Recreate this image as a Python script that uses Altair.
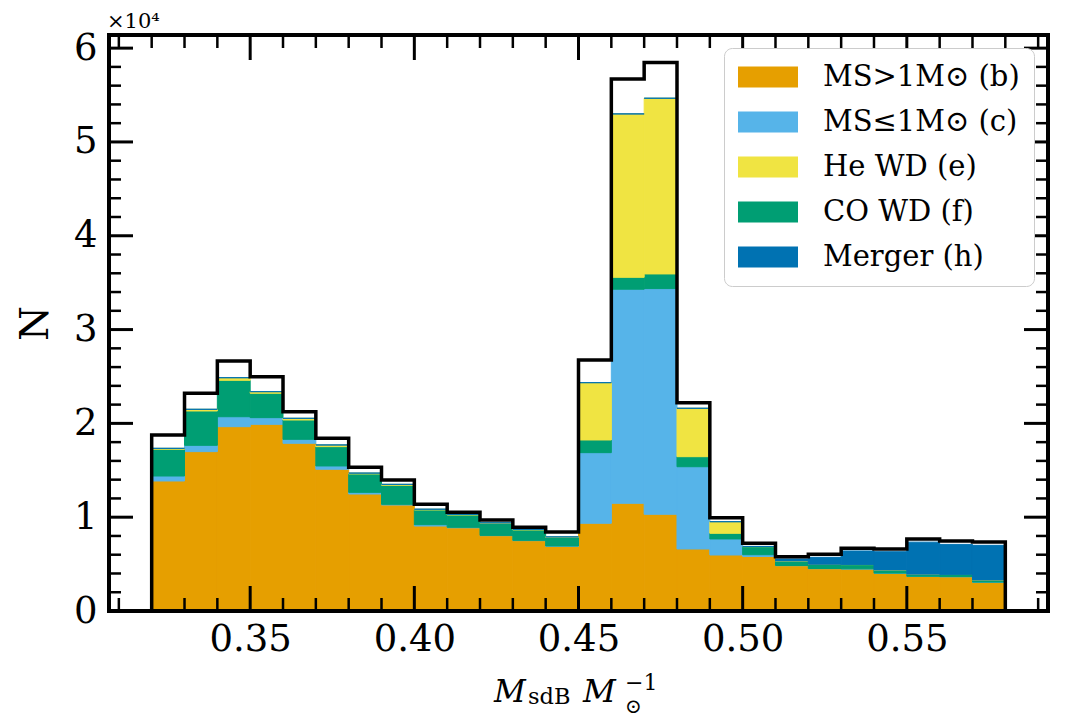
import altair as alt
import pandas as pd

# ---------------- data ----------------
bin_lo = [0.32, 0.33, 0.34, 0.35, 0.36, 0.37, 0.38, 0.39, 0.40, 0.41, 0.42, 0.43, 0.44,
          0.45, 0.46, 0.47, 0.48, 0.49, 0.50, 0.51, 0.52, 0.53, 0.54, 0.55, 0.56, 0.57]
bin_hi = [0.33, 0.34, 0.35, 0.36, 0.37, 0.38, 0.39, 0.40, 0.41, 0.42, 0.43, 0.44, 0.45,
          0.46, 0.47, 0.48, 0.49, 0.50, 0.51, 0.52, 0.53, 0.54, 0.55, 0.56, 0.57, 0.58]

ms_gt1 = [13860, 16990, 19650, 19900, 17880, 15110, 12470, 11300, 9060, 8870, 8030, 7500, 6900,
          9350, 11480, 10310, 6610, 5970, 5820, 4830, 4510, 4480, 4020, 3680, 3650, 3060]
ms_le1 = [530, 670, 1060, 710, 420, 350, 180, 70, 140, 50, 30, 30, 30,
          7530, 22820, 24060, 8770, 1710, 180, 20, 20, 20, 20, 20, 20, 20]
co_wd = [2850, 3660, 3880, 2600, 2060, 2060, 1960, 2030, 1570, 1310, 1290, 1110, 930,
         1350, 1270, 1560, 1070, 600, 860, 480, 450, 450, 330, 230, 230, 220]
he_wd = [100, 180, 280, 170, 180, 180, 90, 100, 80, 70, 50, 60, 40,
         6110, 17420, 18730, 5160, 1240, 20, 10, 0, 0, 0, 0, 0, 0]
merger = [0, 0, 0, 0, 0, 0, 0, 0, 0, 0, 0, 0, 0,
          0, 0, 0, 0, 0, 0, 210, 740, 1450, 1950, 3410, 3200, 3700]
total = [18760, 23210, 26650, 24980, 21250, 18410, 15320, 13970, 11370, 10520, 9700, 8920, 8420,
         26760, 56720, 58460, 22210, 9950, 7220, 5790, 6040, 6680, 6610, 7680, 7460, 7360]

legend_labels = ["MS>1M\u2299 (b)", "MS\u22641M\u2299 (c)", "He WD (e)", "CO WD (f)", "Merger (h)"]
legend_colors = ["#E69F00", "#56B4E9", "#F0E442", "#009E73", "#0072B2"]

x_major = [0.35, 0.40, 0.45, 0.50, 0.55]
x_minor = [0.31, 0.32, 0.33, 0.34, 0.36, 0.37, 0.38, 0.39, 0.41, 0.42, 0.43, 0.44,
           0.46, 0.47, 0.48, 0.49, 0.51, 0.52, 0.53, 0.54, 0.56, 0.57, 0.58, 0.59]
y_major = [0, 10000, 20000, 30000, 40000, 50000, 60000]
y_minor = [2000, 4000, 6000, 8000, 12000, 14000, 16000, 18000, 22000, 24000, 26000, 28000,
           32000, 34000, 36000, 38000, 42000, 44000, 46000, 48000, 52000, 54000, 56000, 58000]

# ---------------- tables ----------------
# stacking order bottom->top
stack_series = [(legend_labels[0], ms_gt1), (legend_labels[1], ms_le1), (legend_labels[3], co_wd),
                (legend_labels[2], he_wd), (legend_labels[4], merger)]
rows = []
for k, (name, vals) in enumerate(stack_series):
    for lo, hi, v in zip(bin_lo, bin_hi, vals):
        rows.append({"lo": lo, "hi": hi, "n": v, "series": name, "k": k})
df = pd.DataFrame(rows)

# outline (step) of the total histogram
ox = [bin_lo[0]] + bin_lo + [bin_hi[-1], bin_hi[-1]]
oy = [0] + total + [total[-1], 0]
outline = pd.DataFrame({"x": ox, "y": oy, "i": list(range(len(ox)))})

W, H = 939, 576
FONT = "DejaVu Serif"
xscale = alt.Scale(domain=[0.307, 0.593], nice=False, zero=False)
yscale = alt.Scale(domain=[0, 61400], nice=False, zero=False)

xaxis = alt.Axis(values=x_major, format=".2f", domain=False, ticks=False, tickSize=0,
                 grid=False, labelFontSize=37, labelPadding=10, labelFont=FONT,
                 labelColor="black", title=None, labelOverlap=False, labelFlush=False)
yaxis = alt.Axis(values=y_major, labelExpr="datum.value / 10000", domain=False, ticks=False,
                 tickSize=0, grid=False, labelFontSize=37, labelPadding=12, labelFont=FONT,
                 labelColor="black", title="N", titleFont=FONT, titleFontSize=40,
                 titleFontWeight="normal", titleColor="black", titlePadding=18,
                 labelOverlap=False, labelFlush=False)

bars = alt.Chart(df).transform_stack(
    stack="n", as_=["y0", "y1"], groupby=["lo"], sort=[alt.SortField("k", order="ascending")]
).mark_rect(strokeWidth=1).encode(
    x=alt.X("lo:Q", scale=xscale, axis=xaxis),
    x2="hi:Q",
    y=alt.Y("y0:Q", scale=yscale, axis=yaxis),
    y2="y1:Q",
    color=alt.Color("series:N", scale=alt.Scale(domain=legend_labels, range=legend_colors),
                    legend=alt.Legend(orient="none", legendX=615, legendY=13, title=None,
                                      symbolType="M-1,-0.7L3,-0.7L3,0.7L-1,0.7Z", symbolSize=900,
                                      symbolStrokeWidth=0, labelFont=FONT, labelFontSize=29,
                                      labelColor="black", labelOffset=55, rowPadding=15, padding=14,
                                      fillColor="white", strokeColor="#cccccc", cornerRadius=8,
                                      labelLimit=500)),
    stroke=alt.Stroke("series:N", scale=alt.Scale(domain=legend_labels, range=legend_colors),
                      legend=None),
)

line = alt.Chart(outline).mark_line(interpolate="step-after", color="black", strokeWidth=3.5,
                                    strokeJoin="miter", strokeCap="butt").encode(
    x=alt.X("x:Q", scale=xscale, axis=xaxis),
    y=alt.Y("y:Q", scale=yscale, axis=yaxis),
    order="i:Q",
)


def vticks(vals, length, width, top):
    d = pd.DataFrame({"v": vals})
    if top:
        enc = dict(y=alt.value(0), y2=alt.value(length))
    else:
        enc = dict(y=alt.value(H), y2=alt.value(H - length))
    return alt.Chart(d).mark_rule(color="black", strokeWidth=width).encode(
        x=alt.X("v:Q", scale=xscale, axis=xaxis), **enc)


def hticks(vals, length, width, right):
    d = pd.DataFrame({"v": vals})
    if right:
        enc = dict(x=alt.value(W), x2=alt.value(W - length))
    else:
        enc = dict(x=alt.value(0), x2=alt.value(length))
    return alt.Chart(d).mark_rule(color="black", strokeWidth=width).encode(
        y=alt.Y("v:Q", scale=yscale, axis=yaxis), **enc)


ticks = [
    vticks(x_major, 25, 3, False), vticks(x_minor, 13, 2.5, False),
    vticks(x_major, 25, 3, True), vticks(x_minor, 13, 2.5, True),
    hticks(y_major, 24, 3, False), hticks(y_minor, 12, 2.5, False),
    hticks(y_major, 24, 3, True), hticks(y_minor, 12, 2.5, True),
]

one = pd.DataFrame({"a": [0]})
frame = alt.Chart(one).mark_rect(filled=False, stroke="black", strokeWidth=4).encode(
    x=alt.value(0), x2=alt.value(W), y=alt.value(0), y2=alt.value(H))


def label(txt, x, y, size, style="normal"):
    return alt.Chart(one).mark_text(text=txt, font=FONT, fontSize=size, fontStyle=style,
                                    align="left", baseline="alphabetic", color="black").encode(
        x=alt.value(x), y=alt.value(y))


texts = [
    label("\u00d710\u2074", -2, -7, 21),
    label("M", 385, 667, 31, "italic"),
    label("sdB", 419, 669, 22.5),
    label("M", 474, 667, 32, "italic"),
    label("\u2299", 516, 678, 20),
    label("\u22121", 516, 655, 22),
]

chart = alt.layer(bars, line, *ticks, frame, *texts).properties(
    width=W, height=H,
    autosize=alt.AutoSizeParams(type="none"),
    padding={"left": 101, "top": 27, "right": 20, "bottom": 108},
).configure_view(strokeWidth=0).configure(font=FONT)

chart.save("out.html", embed_options={"renderer": "svg", "actions": False})
